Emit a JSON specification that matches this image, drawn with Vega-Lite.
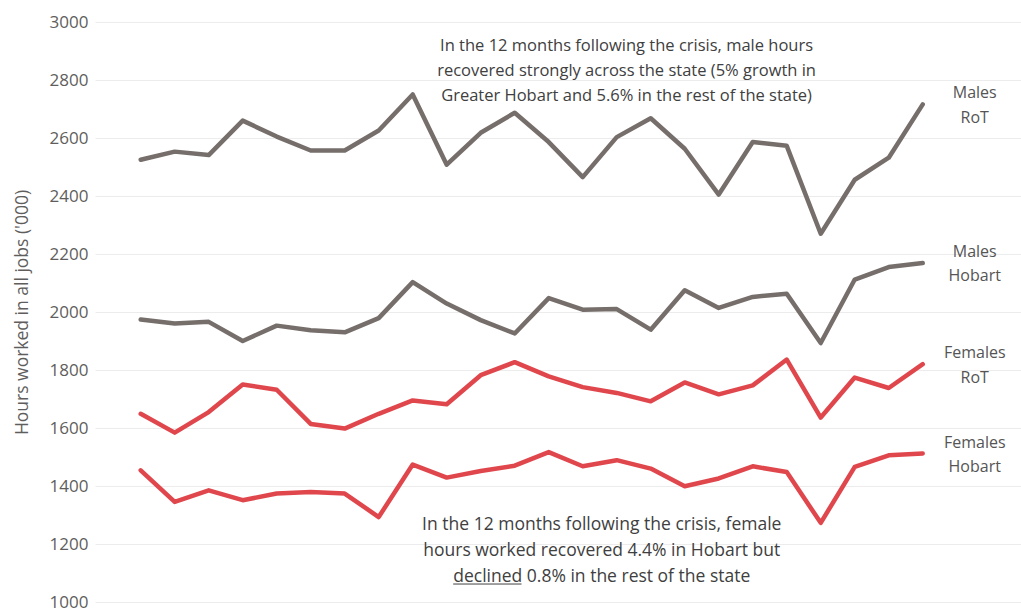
{
  "$schema": "https://vega.github.io/schema/vega-lite/v6.json",
  "width": 926,
  "height": 580,
  "autosize": {"type": "none"},
  "padding": {"left": 95, "top": 22, "right": 0, "bottom": 8},
  "background": "white",
  "config": {
    "view": {"stroke": null},
    "font": "Open Sans",
    "axis": {"grid": true, "gridColor": "#ececec", "gridWidth": 1, "domain": false, "ticks": false}
  },
  "datasets": {
    "series": [
      {"i":1,"series":"Males RoT","value":2525},{"i":2,"series":"Males RoT","value":2553},{"i":3,"series":"Males RoT","value":2541},{"i":4,"series":"Males RoT","value":2660},{"i":5,"series":"Males RoT","value":2605},{"i":6,"series":"Males RoT","value":2557},{"i":7,"series":"Males RoT","value":2557},{"i":8,"series":"Males RoT","value":2626},{"i":9,"series":"Males RoT","value":2750},{"i":10,"series":"Males RoT","value":2508},{"i":11,"series":"Males RoT","value":2618},{"i":12,"series":"Males RoT","value":2687},{"i":13,"series":"Males RoT","value":2586},{"i":14,"series":"Males RoT","value":2465},{"i":15,"series":"Males RoT","value":2603},{"i":16,"series":"Males RoT","value":2668},{"i":17,"series":"Males RoT","value":2563},{"i":18,"series":"Males RoT","value":2405},{"i":19,"series":"Males RoT","value":2586},{"i":20,"series":"Males RoT","value":2573},{"i":21,"series":"Males RoT","value":2270},{"i":22,"series":"Males RoT","value":2456},{"i":23,"series":"Males RoT","value":2532},{"i":24,"series":"Males RoT","value":2716},
      {"i":1,"series":"Males Hobart","value":1974},{"i":2,"series":"Males Hobart","value":1960},{"i":3,"series":"Males Hobart","value":1966},{"i":4,"series":"Males Hobart","value":1900},{"i":5,"series":"Males Hobart","value":1953},{"i":6,"series":"Males Hobart","value":1937},{"i":7,"series":"Males Hobart","value":1930},{"i":8,"series":"Males Hobart","value":1979},{"i":9,"series":"Males Hobart","value":2103},{"i":10,"series":"Males Hobart","value":2029},{"i":11,"series":"Males Hobart","value":1972},{"i":12,"series":"Males Hobart","value":1926},{"i":13,"series":"Males Hobart","value":2048},{"i":14,"series":"Males Hobart","value":2008},{"i":15,"series":"Males Hobart","value":2010},{"i":16,"series":"Males Hobart","value":1939},{"i":17,"series":"Males Hobart","value":2075},{"i":18,"series":"Males Hobart","value":2014},{"i":19,"series":"Males Hobart","value":2052},{"i":20,"series":"Males Hobart","value":2063},{"i":21,"series":"Males Hobart","value":1893},{"i":22,"series":"Males Hobart","value":2112},{"i":23,"series":"Males Hobart","value":2155},{"i":24,"series":"Males Hobart","value":2169},
      {"i":1,"series":"Females RoT","value":1649},{"i":2,"series":"Females RoT","value":1584},{"i":3,"series":"Females RoT","value":1655},{"i":4,"series":"Females RoT","value":1750},{"i":5,"series":"Females RoT","value":1732},{"i":6,"series":"Females RoT","value":1614},{"i":7,"series":"Females RoT","value":1598},{"i":8,"series":"Females RoT","value":1649},{"i":9,"series":"Females RoT","value":1695},{"i":10,"series":"Females RoT","value":1682},{"i":11,"series":"Females RoT","value":1782},{"i":12,"series":"Females RoT","value":1827},{"i":13,"series":"Females RoT","value":1778},{"i":14,"series":"Females RoT","value":1741},{"i":15,"series":"Females RoT","value":1721},{"i":16,"series":"Females RoT","value":1692},{"i":17,"series":"Females RoT","value":1757},{"i":18,"series":"Females RoT","value":1716},{"i":19,"series":"Females RoT","value":1747},{"i":20,"series":"Females RoT","value":1836},{"i":21,"series":"Females RoT","value":1636},{"i":22,"series":"Females RoT","value":1774},{"i":23,"series":"Females RoT","value":1738},{"i":24,"series":"Females RoT","value":1820},
      {"i":1,"series":"Females Hobart","value":1454},{"i":2,"series":"Females Hobart","value":1345},{"i":3,"series":"Females Hobart","value":1385},{"i":4,"series":"Females Hobart","value":1351},{"i":5,"series":"Females Hobart","value":1374},{"i":6,"series":"Females Hobart","value":1379},{"i":7,"series":"Females Hobart","value":1374},{"i":8,"series":"Females Hobart","value":1293},{"i":9,"series":"Females Hobart","value":1474},{"i":10,"series":"Females Hobart","value":1429},{"i":11,"series":"Females Hobart","value":1452},{"i":12,"series":"Females Hobart","value":1470},{"i":13,"series":"Females Hobart","value":1517},{"i":14,"series":"Females Hobart","value":1468},{"i":15,"series":"Females Hobart","value":1489},{"i":16,"series":"Females Hobart","value":1460},{"i":17,"series":"Females Hobart","value":1399},{"i":18,"series":"Females Hobart","value":1426},{"i":19,"series":"Females Hobart","value":1468},{"i":20,"series":"Females Hobart","value":1448},{"i":21,"series":"Females Hobart","value":1273},{"i":22,"series":"Females Hobart","value":1466},{"i":23,"series":"Females Hobart","value":1506},{"i":24,"series":"Females Hobart","value":1512}
    ]
  },
  "layer": [
    {"data": {"name": "series"},
     "mark": {"type": "line", "strokeWidth": 4.5, "strokeCap": "round", "strokeJoin": "round"},
     "encoding": {
       "x": {"field": "i", "type": "quantitative", "scale": {"domain": [-0.344, 26.89], "nice": false, "zero": false}, "axis": null},
       "y": {"field": "value", "type": "quantitative", "scale": {"domain": [1000, 3000], "nice": false, "zero": false},
         "axis": {"values": [1000,1200,1400,1600,1800,2000,2200,2400,2600,2800,3000], "format": "d", "title": "Hours worked in all jobs ('000)", "labelFontSize": 17, "labelColor": "#605e5c", "labelPadding": 7, "titleFontSize": 17.5, "titleFontWeight": "normal", "titleColor": "#605e5c", "titleX": -73, "titleY": 290, "titleAngle": -90, "titleAlign": "center", "titleBaseline": "middle"}},
       "color": {"field": "series", "type": "nominal", "scale": {"domain": ["Males RoT","Males Hobart","Females RoT","Females Hobart"], "range": ["#766e6b","#766e6b","#e0474d","#e0474d"]}, "legend": null}}},
    {"data": {"name": "series"},
     "transform": [{"filter": "datum.i == 24"}],
     "mark": {"type": "text", "dx": 52, "dy": -11, "align": "center", "baseline": "middle", "lineBreak": " ", "lineHeight": 24.5, "fontSize": 16, "color": "#555555"},
     "encoding": {"x": {"field": "i", "type": "quantitative"}, "y": {"field": "value", "type": "quantitative"}, "text": {"field": "series"}}},
    {"data": {"values": [{"k": 1}]},
     "mark": {"type": "text", "align": "center", "baseline": "middle", "lineHeight": 25, "fontSize": 16.5, "color": "#404040"},
     "encoding": {"x": {"datum": 15.29, "type": "quantitative"}, "y": {"datum": 2917, "type": "quantitative"},
       "text": {"value": ["In the 12 months following the crisis, male hours", "recovered strongly across the state (5% growth in", "Greater Hobart and 5.6% in the rest of the state)"]}}},
    {"data": {"values": [{"k": 1}]},
     "mark": {"type": "text", "align": "center", "baseline": "middle", "lineHeight": 26, "fontSize": 17.5, "color": "#404040"},
     "encoding": {"x": {"datum": 14.56, "type": "quantitative"}, "y": {"datum": 1266, "type": "quantitative"},
       "text": {"value": ["In the 12 months following the crisis, female", "hours worked recovered 4.4% in Hobart but", "declined 0.8% in the rest of the state"]}}},
    {"data": {"values": [{"k": 1}]},
     "mark": {"type": "rule", "strokeWidth": 1, "color": "#404040"},
     "encoding": {"x": {"datum": 10.19, "type": "quantitative"}, "x2": {"datum": 12.2}, "y": {"datum": 1062, "type": "quantitative"}}}
  ]
}
